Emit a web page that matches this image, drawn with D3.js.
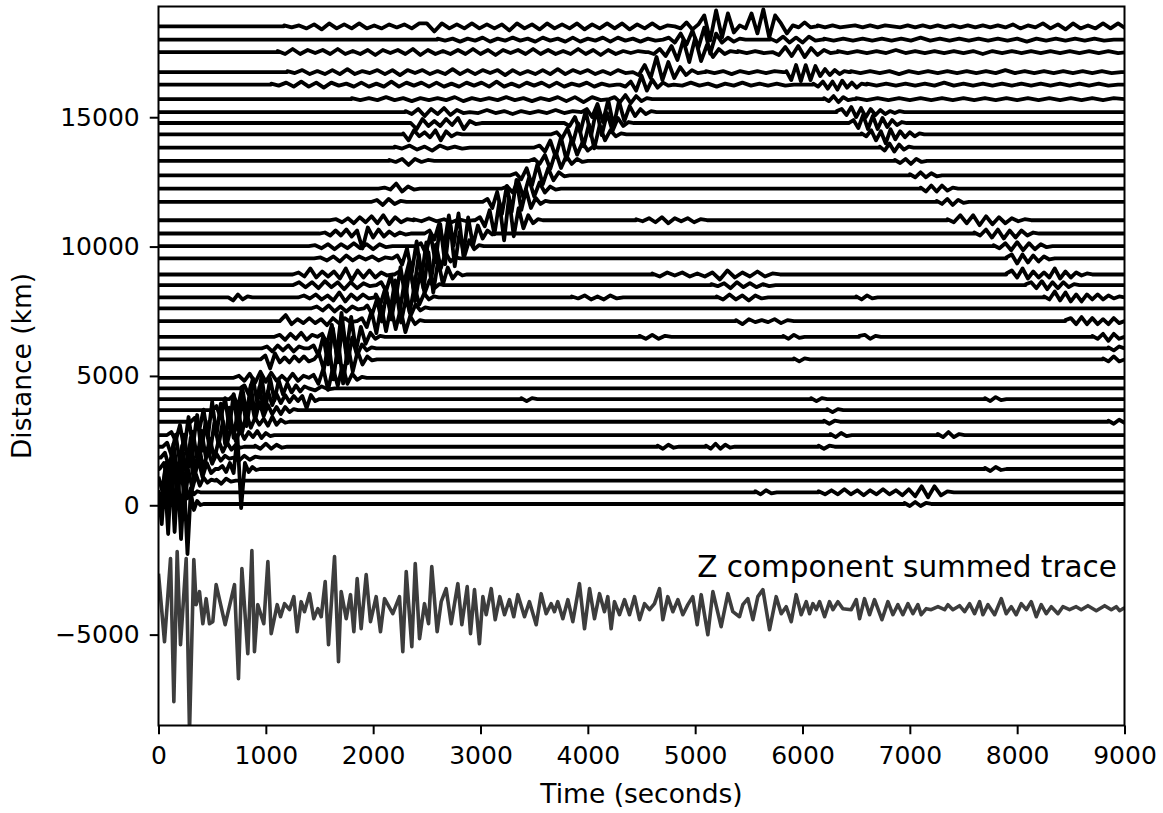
<!DOCTYPE html>
<html>
<head>
<meta charset="utf-8">
<script src="https://cdn.jsdelivr.net/npm/d3@7"></script>
<style>
  body { margin: 0; background: #fff; }
  text { font-family: "DejaVu Sans", sans-serif; fill: #000; }
</style>
</head>
<body>
<svg id="chart" width="1163" height="813"></svg>
<script>
// ---- axis ticks ----
const timeTicks = [0, 1000, 2000, 3000, 4000, 5000, 6000, 7000, 8000, 9000];
const distanceTicks = [-5000, 0, 5000, 10000, 15000];

// ---- station distances (km), top to bottom ----
const distances = [18510, 18000, 17520, 16745, 16260, 15700, 15200, 14776, 14340, 13826,
  13309, 12756, 12243, 11725, 11018, 10505, 10014, 9540, 8921, 8508,
  8033, 7608, 7118, 6511, 6063, 5638, 4928, 4518, 4105, 3680,
  3229, 2715, 2263, 1838, 1402, 950, 502, 50];

// normalised trace amplitude unit, in km of plot offset
const kmPerUnit = 38.7;

// ---- wiggle segments per station: [start time (s), sample step (s), successive extrema] ----
const wiggles = [
  [[1170,70,[1,-1,1,-2,2,-3,3,-2,2,-2,3,-2,1,-2,2,-1,2,-2,3,3,-5,3,-2,2,-2,3,-2,2,-2,2,-4,3,-2,2,-3,3,-2,2,-2,3,-3,2,-2,3,-2,3,-3,2,-2,3,-2,1]],
   [4810,55,[0,-2,4,-3,2,11,-14,16,-11,13,-6,1,-2,13,-7,17,-11,11,3,-7,1,-1,4,-1]],
   [6140,70,[1,-1,1,-1,0,1,-1,1,-1,1,0,-1,1,-1,1,-1,1,-1,1,-1,1,-1,1,-1,1,-1,2,-2,1,-1,3,-2,2,-3,3,-2,1,-2,3,-2,3,-2]]],
  [[2600,70,[1,-1,1,-2,1,-1,2,-2,1,-1,2,-1,1,-2,2,-1,1,-2,2,-2,1,-1,2,-2,2,-1,1,-2,1,-1]],
   [4700,55,[0,2,-3,6,-5,9,-8,12,-14,6,-3,2,-2,1]],
   [5700,60,[1,-2,3,-3,2,-3,3,-1]],
   [6200,90,[1,-1,1,-1,1,-1,1,-1,1,-1,2,-1,1,-1,1,-1,1,-1,1,-1,1,-2,1,-1,1,-1,1,-1,1,-1,0]]],
  [[1110,70,[1,-2,3,-2,2,-1,2,-2,3,-2,1,-2,2,-3,2,-1,2,-2,3,-3,2,-2,1,-2,2,-2,3,-2,2,-3,2,-1,2,-2,3,-2,2,-2,1,-2,3,-2,2,-3,2,-2,1,-1,1]],
   [4560,55,[0,-2,3,-4,6,-8,12,-10,14,-9,7,-5,3,-2,1]],
   [5400,80,[1,-1,1,-1]],
   [5720,60,[2,-3,5,-4,6,-5,4,-3,2,-1]],
   [6330,90,[1,-1,1,-1,1,-1,2,-1,1,-1,1,-1,1,-1,1,-2,1,-1,1,-1,1,-1,1,-1,1,-1,1,-1,1,-1]]],
  [[1200,70,[1,-1,2,-2,1,-2,2,-2,3,-2,1,-1,2,-2,2,-3,2,-1,2,-2,1,-2,3,-2,2,-2,2,-1,2,-3,2,-2,1,-2,2,-2,3,-2,2,-1,2,-2,1,-2,2,-1]],
   [4420,55,[0,-3,7,-6,15,-8,10,-6,5,-3,2,-1]],
   [5100,80,[1,-1,1,-2,1,-1,1,-1,1]],
   [5850,45,[1,-8,7,-9,7,-8,6,-4,3,-3,2,-2,1]],
   [6450,90,[1,-1,1,-1,1,-2,1,-1,1,-1,1,-1,1,-1,1,-1,2,-1,1,-1,1,-1,1,-1,1,-1,1,-1]]],
  [[1050,70,[1,-1,2,-2,3,-2,2,-3,2,-1,1,-2,2,-2,1,-2,3,-2,2,-1,2,-2,2,-2,1,-2,2,-1,2,-2,3,-2,1,-2,2,-1,2,-2,2,-2,1,-1,2,-2,1,-1]],
   [4300,50,[0,-2,3,-6,9,-6,5,-3,2,-1]],
   [4800,80,[1,-1,2,-1,1,-2,1,-1,2,-1,1,-1,1,-1]],
   [6100,45,[1,-2,3,-4,3,-5,4,-3,2,-3,1]],
   [6600,90,[1,-1,1,-1,1,-1,1,-1,2,-1,1,-1,1,-1,1,-1,1,-1,1,-1,1,-1,1,-1,1,-1]]],
  [[1800,80,[1,-1,1,-1,2,-1,1,-2,1,-1,1,-1,2,-2,1,-1,1,-1,2,-1,1,-2,1,-1,2,-2,2,-3,2,-1]],
   [4200,50,[0,2,-3,4,-4,3,-2,1]],
   [6200,45,[1,-2,3,-3,2,-1]],
   [6500,100,[1,-1,1,-1,1,-1,1,-1,1,-1,1,-1,1,-1,1,-1,1,-1,1,-1,1,-1,1,-1,1]]],
  [[2300,60,[1,-2,3,-4,3,-2,4,-3,2,-1]],
   [2900,80,[1,-1,2,-1,1,-2,1,-1,1,-1,2,-1,1]],
   [3940,50,[0,3,-5,8,-10,12,-14,11,-9,6,-4,3,-2,1]],
   [6320,45,[1,3,-3,5,-5,4,-5,3,-3,2,-2,1,-1,1]]],
  [[2350,55,[0,-6,4,-3,2,-3,4,-2,5,-6,2,-1]],
   [3780,50,[0,-3,6,-9,12,-13,14,-12,10,-8,5,-3,1]],
   [6430,45,[0,3,-5,8,-6,7,-6,5,-4,3,-2,1]]],
  [[2280,50,[1,-6,4,-2,2,-3,4,-6,3,-2,1]],
   [3660,50,[0,2,-4,6,-9,11,-12,10,-14,9,-6,4,-2,1]],
   [6550,45,[1,-2,4,-6,3,-9,5,-5,3,-3,2,-2,1]]],
  [[2200,70,[1,-1,2,-2,1,-3,2,-1,1,-1]],
   [3500,50,[0,2,-4,7,-9,10,-12,9,-7,5,-3,1]],
   [6720,45,[1,-3,4,-4,3,-2,1]]],
  [[2150,60,[1,-1,2,-4,2,-1,1]],
   [3450,50,[0,2,-3,6,-8,9,-7,5,-3,2,-1]],
   [6860,50,[1,-2,2,-3,2,-1]]],
  [[3280,50,[0,2,-4,7,-10,11,-9,7,-5,3,-1]],
   [7000,50,[1,-2,3,-2,2,-1]]],
  [[2050,55,[0,1,-1,5,-3,2,-1]],
   [3200,50,[0,2,-4,8,-9,10,-8,6,-4,2,-1]],
   [7100,50,[1,-3,3,-3,3,-2,1]]],
  [[1980,55,[0,2,-3,3,-2,1]],
   [3020,45,[0,3,-6,10,-12,16,-10,22,-8,12,-6,4,-2,1]],
   [7250,50,[1,-2,3,-3,2,-1]]],
  [[1600,55,[0,1,-2,2,-3,3,-2,4,-3,5,-4,3,-2,1]],
   [2380,70,[1,-1,2,-1,1,-2,1,-1]],
   [2950,45,[0,3,-6,10,-14,18,-20,23,-16,12,-8,5,-3,1]],
   [4450,60,[1,-1,2,-2,3,-3,2,-1,2,-2,1]],
   [7350,60,[1,-2,5,-3,5,-5,4,-4,3,-3,2,-1,1]]],
  [[1500,50,[0,1,-2,3,-2,4,-3,3,-15,6,-4,4,-3,2,-2,1,-1]],
   [2480,45,[0,3,-6,10,-14,18,-12,20,-22,16,-12,8,-5,3,-1]],
   [7600,55,[1,-2,4,-4,4,-5,3,-4,3,-2,1]]],
  [[1400,60,[0,1,-2,2,-3,2,-2,3,-2,2,-3,2,-1]],
   [2400,45,[0,3,-7,12,-16,22,-18,25,-20,14,-10,6,-3,1]],
   [7780,55,[1,-2,3,-4,4,-4,3,-3,2,-1]]],
  [[1450,60,[0,1,-2,2,-3,3,-2,2,-1,2,-2,1]],
   [2180,45,[0,3,-6,10,-14,17,-20,16,-22,14,-10,6,-3,1]],
   [7900,50,[1,4,-5,4,-4,3,-3,2,-1]]],
  [[1250,55,[0,2,-2,6,-3,3,-2,3,-4,6,-6,4,-3,4,-3,2,-1]],
   [2200,45,[0,3,-7,12,-16,20,-14,22,-18,14,-10,7,-4,2,-1]],
   [4600,70,[1,-2,2,-1,2,-2,1,-2,2,-5,4,-3,2,-2,3,-2,1]],
   [7900,50,[1,4,-3,6,-4,3,-3,2,-3,6,-4,3,-3,2,-1,1]]],
  [[1250,60,[0,3,-2,3,-3,4,-2,3,-4,3,-3,2,-1]],
   [2030,45,[0,3,-6,10,-14,18,-13,20,-16,12,-8,5,-3,1]],
   [5150,60,[1,-1,2,-3,3,-2,2,-2,1,-1]],
   [8080,50,[1,3,-3,4,-4,3,-3,3,-2,1]]],
  [[650,45,[0,-3,3,-2,1]],
   [1300,55,[0,2,-1,3,-2,2,-3,5,-4,3,-2,3,-1]],
   [1980,45,[0,3,-6,10,-13,17,-12,18,-15,11,-7,4,-2,1]],
   [3850,60,[1,-1,2,-2,1,-2,2,-1]],
   [5200,60,[1,-2,3,-2,2,-3,2,-1]],
   [6500,50,[1,-2,2,-1]],
   [8250,50,[1,-2,6,-3,5,-4,3,-4,3,-2,3,-2,2,-1,1]]],
  [[1420,55,[0,2,-2,3,-3,2,-3,2,-1]],
   [1900,45,[0,3,-6,9,-13,16,-11,18,-14,10,-7,4,-2,1]]],
  [[1130,55,[0,6,-3,2,-2,3,-2,2,-4,3,-2,3,-1]],
   [1850,45,[0,3,-6,10,-12,15,-10,14,-8,12,-11,5,-3,1]],
   [5380,60,[1,-3,2,-1,1,-1,2,-2,1]],
   [8450,50,[1,3,-3,4,-3,3,-3,2,-3,3,-2]]],
  [[1080,50,[0,2,-3,3,-2,4,-3,2]],
   [1480,45,[0,3,-7,12,-18,24,-16,20,-14,10,-7,4,-2,1]],
   [4480,60,[1,-2,2,-2,1]],
   [5820,50,[1,-2,2,-1]],
   [6530,50,[1,2,-2,1]],
   [8700,50,[1,-2,3,-4,3,-2]]],
  [[960,50,[0,2,-3,3,-2,3,-3,2]],
   [1400,45,[0,3,-7,12,-16,20,-14,22,-15,11,-7,4,-2,1]],
   [8850,50,[1,-2,2]]],
  [[950,45,[0,4,-9,6,-3,2,-3,3,-2,3,-2]],
   [1450,45,[0,6,-10,16,-20,18,-24,14,-12,8,-5,3,-1]],
   [5920,50,[1,-2,1]],
   [8800,50,[1,-2,3,-2]]],
  [[700,50,[0,2,-3,4,-5,6,-4,5,-3,2,-3,4,-3,2]],
   [1400,45,[0,3,-6,9,-12,10,-8,12,-6,4,-2,1]]],
  [[760,40,[0,3,-6,10,-14,12,-18,10,-12,8,-6,5,-4,3,-3,2]],
   [1400,60,[1,-2,2,-1]]],
  [[660,40,[0,4,-8,12,-16,14,-18,12,-10,8,-6,5,-4,4,-3,3,-2,3,-9,4,-2]],
   [3380,50,[1,-2,1]],
   [6080,50,[1,-2,1]],
   [7700,50,[1,-2,2,-1]]],
  [[500,40,[0,4,-8,12,-18,16,-20,14,-16,12,-10,8,-6,5,-4,3,-4,3,-2,1]],
   [6230,50,[1,-2,1]]],
  [[300,40,[0,4,-8,12,-16,20,-14,18,-22,14,-16,12,-10,8,-6,4,-3,3,-4,5,-3,2,-1]],
   [6200,50,[1,-2,1]],
   [8850,50,[1,-2,2,-1]]],
  [[80,40,[0,3,-6,10,-14,18,-12,20,-16,14,-18,12,-10,14,-8,10,-6,5,-4,3,-2,4,-3,2,-1]],
   [6260,50,[1,-2,2,-1]],
   [7260,50,[1,-2,3,-2,1]]],
  [[40,40,[0,4,-8,12,-16,12,-20,15,-12,16,-10,8,-12,6,-5,4,-3,2,-1]],
   [900,50,[1,-2,3,-2,2,-1]],
   [4650,50,[1,-2,2,-1]],
   [5100,45,[1,-2,3,-2,2,-1]],
   [6150,50,[1,-2,1]]],
  [[20,40,[0,5,-10,14,-18,12,-16,20,-14,10,-12,8,-6,4,-3,2,-1]],
   [700,50,[1,-3,2,-2,1]]],
  [[10,40,[0,6,-12,16,-20,14,-22,18,-12,10,-8,6,-4]],
   [560,35,[0,3,-3,6,-4,34,-39,6,-3,2,-1]],
   [7700,50,[1,-2,2,-1]]],
  [[0,35,[4,-10,18,-14,22,-16,12,-20,10,-8,6,-5,3,-2,1]],
   [540,45,[1,-3,2,-1]]],
  [[0,30,[2,-12,20,-16,24,-18,14,-22,10,-6,4,-2,1]],
   [5560,50,[1,-2,2,-1]],
   [6150,60,[1,-2,2,-2,3,-2,2,-3,2,-2,3,-2,2,-3,3,-4,6,-5,6,-3,1]]],
  [[0,30,[10,-20,25,-30,36,-28,30,-35,20,-50,12,-6,3,-1]],
   [6950,50,[1,-2,2,-2,1]]]
];

// ---- Z component summed trace ----
const sumOffset = -3920;
const sumTimes = [0,56,112,143,174,205,258,289,329,351,382,413,444,475,506,537,621,708,745,777,832,870,894,925,981,1019,1050,1106,1137,1174,1221,1261,1292,1329,1360,1407,1447,1485,1516,1553,1584,1640,1677,1702,1749,1789,1820,1851,1888,1935,1975,2028,2068,2106,2183,2245,2276,2308,2360,2392,2432,2478,2516,2546,2596,2634,2680,2727,2789,2826,2876,2907,2944,2990,3022,3053,3100,3137,3180,3224,3270,3310,3348,3410,3456,3519,3565,3612,3658,3689,3720,3767,3814,3860,3922,3969,4016,4062,4109,4155,4186,4217,4248,4295,4342,4388,4435,4482,4528,4575,4621,4668,4699,4745,4792,4839,4885,4932,4978,5019,5056,5118,5165,5242,5305,5351,5413,5444,5491,5538,5584,5631,5693,5755,5802,5848,5895,5941,5988,6035,6066,6097,6128,6159,6206,6252,6283,6330,6376,6454,6501,6532,6578,6625,6671,6740,6796,6842,6889,6935,6982,7029,7075,7106,7153,7199,7262,7324,7355,7401,7463,7510,7557,7603,7650,7681,7728,7790,7852,7898,7945,7991,8038,8085,8131,8178,8224,8271,8318,8380,8426,8488,8550,8597,8659,8737,8815,8877,8923,8954,9000];
const sumAmps = [33,-35,48,-95,55,-38,48,-125,47,2,15,-17,8,-17,-15,22,-18,22,-72,38,-47,56,-45,2,-17,45,-27,2,-10,3,-3,10,-25,5,-5,13,-12,-2,-10,25,-38,50,-55,15,-12,12,-25,28,-22,32,-15,10,-25,8,-7,10,-45,35,-40,43,-32,3,-17,40,-25,5,18,-17,23,-18,20,-27,17,-37,10,-8,18,-13,10,-8,7,-10,12,-10,5,-18,13,-7,3,-5,5,-12,7,-15,23,-22,18,-12,13,-5,10,-22,5,-8,7,-8,10,-13,3,-3,3,18,-13,10,-5,7,-8,2,10,-18,12,-28,15,-20,13,-5,-10,2,8,-13,10,17,-23,10,-7,0,-15,12,-8,5,-7,3,-3,5,-10,5,-3,5,-2,-3,7,-12,8,-8,7,-13,5,-8,2,-8,3,-7,2,-8,-2,-3,0,-3,2,-3,1,-5,3,-7,5,-8,2,-8,8,-7,0,-8,3,-3,5,-10,2,-7,0,-7,0,-3,0,-3,1,-4,1,-3,0,-4,-1];

// ---- layout ----
const plot = { left: 158.5, right: 1124.5, top: 6.5, bottom: 725.5 };
const svg = d3.select("#chart");
const x = d3.scaleLinear().domain([0, 9000]).range([plot.left, plot.right]);
const y = d3.scaleLinear().domain([-8513, 19280]).range([plot.bottom, plot.top]);

svg.append("defs").append("clipPath").attr("id", "plotClip")
  .append("rect").attr("x", plot.left).attr("y", plot.top)
  .attr("width", plot.right - plot.left).attr("height", plot.bottom - plot.top);

// expand the segments of one station into a polyline of (time, amplitude)
function tracePoints(segs) {
  const pts = [];
  const push = (t, a) => { if (!pts.length || t > pts[pts.length - 1][0]) pts.push([t, a]); };
  segs.slice().sort((a, b) => a[0] - b[0]).forEach(([t0, dt, amps]) => {
    if (t0 > 0) push(t0 - 1, 0);
    amps.forEach((a, i) => push(t0 + i * dt, a));
    push(t0 + amps.length * dt, 0);
  });
  if (pts[0][0] > 0) pts.unshift([0, 0]);
  push(9000, 0);
  return pts;
}

const layer = svg.append("g").attr("clip-path", "url(#plotClip)");

distances.forEach((dist, i) => {
  const line = d3.line()
    .x(d => x(d[0]))
    .y(d => y(dist + d[1] * kmPerUnit));
  layer.append("path")
    .attr("d", line(tracePoints(wiggles[i])))
    .attr("fill", "none")
    .attr("stroke", "#000")
    .attr("stroke-width", 3.8)
    .attr("stroke-linejoin", "round");
});

const sumLine = d3.line()
  .x((d, i) => x(sumTimes[i]))
  .y((d, i) => y(sumOffset + sumAmps[i] * kmPerUnit));
layer.append("path")
  .attr("d", sumLine(sumTimes))
  .attr("fill", "none")
  .attr("stroke", "#3d3d3d")
  .attr("stroke-width", 3.6)
  .attr("stroke-linejoin", "round");

// ---- axes ----
const xAxis = svg.append("g")
  .attr("transform", `translate(0,${plot.bottom})`)
  .call(d3.axisBottom(x).tickValues(timeTicks).tickFormat(d3.format("d")).tickSize(8.75).tickPadding(12));
const yAxis = svg.append("g")
  .attr("transform", `translate(${plot.left},0)`)
  .call(d3.axisLeft(y).tickValues(distanceTicks).tickFormat(d => d < 0 ? "\u2212" + Math.abs(d) : String(d)).tickSize(8.75).tickPadding(10));
[xAxis, yAxis].forEach(g => {
  g.select(".domain").remove();
  g.selectAll(".tick line").attr("stroke", "#000").attr("stroke-width", 2);
  g.selectAll(".tick text").attr("font-size", 25).attr("font-family", "DejaVu Sans").attr("fill", "#000");
});

svg.append("rect")
  .attr("x", plot.left).attr("y", plot.top)
  .attr("width", plot.right - plot.left).attr("height", plot.bottom - plot.top)
  .attr("fill", "none").attr("stroke", "#000").attr("stroke-width", 2);

svg.append("text")
  .attr("x", (plot.left + plot.right) / 2).attr("y", 803)
  .attr("text-anchor", "middle").attr("font-size", 26.5)
  .text("Time (seconds)");

svg.append("text")
  .attr("transform", `translate(31,${(plot.top + plot.bottom) / 2}) rotate(-90)`)
  .attr("text-anchor", "middle").attr("font-size", 26.5)
  .text("Distance (km)");

svg.append("text")
  .attr("x", 1117).attr("y", 577)
  .attr("text-anchor", "end").attr("font-size", 29.5)
  .text("Z component summed trace");
</script>
</body>
</html>
